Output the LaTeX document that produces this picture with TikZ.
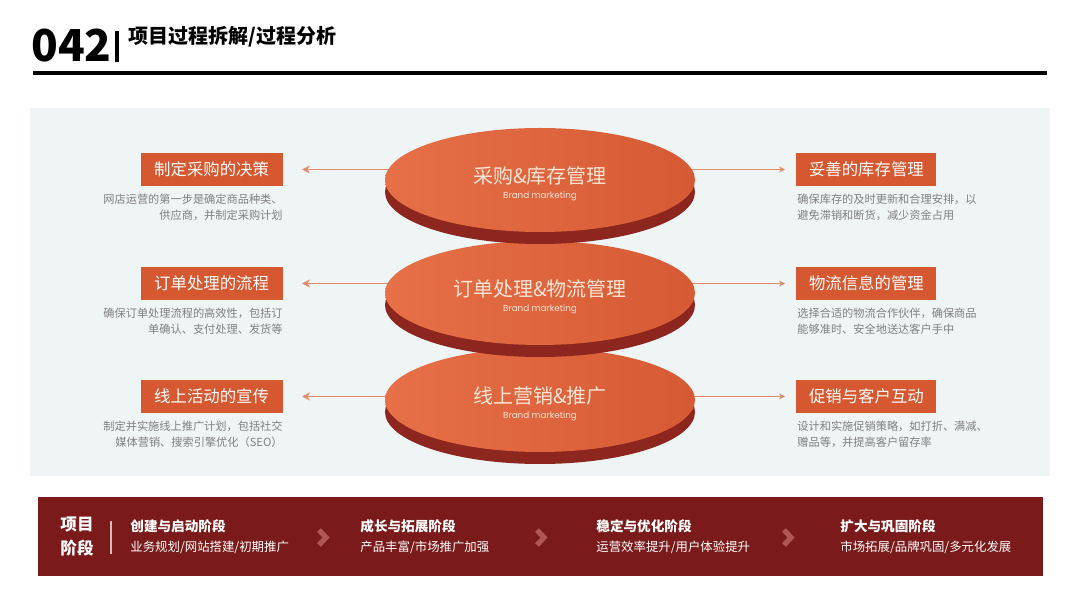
\documentclass[tikz,border=0pt]{standalone}
\usepackage{fontspec}
\setmainfont{Noto Sans CJK SC}
\newfontfamily\brandfont{Poppins}
\usepackage{xcolor}
\definecolor{pgPanel}{RGB}{239, 244, 244}
\definecolor{pgBox}  {RGB}{213,  88,  48}
\definecolor{pgFaceL}{RGB}{230, 112,  72}
\definecolor{pgFaceR}{RGB}{214,  90,  52}
\definecolor{pgRim}  {RGB}{140,  38,  30}
\definecolor{pgCream}{RGB}{250, 230, 214}
\definecolor{pgLink} {RGB}{226, 140, 110}
\definecolor{pgGrey} {RGB}{128, 128, 128}
\definecolor{pgBand} {RGB}{122,  26,  26}
\definecolor{pgChev} {RGB}{176,  86,  86}
\usepackage{tikz}
\usetikzlibrary{
  arrows.meta,
  positioning,
  shapes.geometric,
}

\begin{document}
\begin{tikzpicture}[
  x=0.5pt, y=-0.5pt,
  labelbox/.style={fill=pgBox, text=white, font=\fontsize{8.2}{9}\selectfont,
    minimum width=71pt, minimum height=16.5pt, inner sep=0pt},
  desc/.style={text=pgGrey, font=\fontsize{5.6}{7.6}\selectfont, inner sep=0pt},
  link/.style={pgLink, line width=0.5pt, {Stealth[length=4pt,width=4pt]}-{Stealth[length=3pt,width=3pt]},
    shorten <=9.5pt, shorten >=5.5pt},
  disc/.style={ellipse, minimum width=155pt, minimum height=52pt, inner sep=0pt},
  stagehead/.style={anchor=west, text=white, font=\bfseries\fontsize{6.8}{8}\selectfont, inner sep=0pt},
  stagesub/.style={anchor=west, text=white, font=\fontsize{6.2}{8}\selectfont, inner sep=0pt},
  chevron/.style={pgChev, line width=2.6pt, line cap=butt, line join=miter},
]
  % page size: 1080 x 608 px (1px = 0.5pt)
  \useasboundingbox (0,0) rectangle (1080,608);
  \fill[white] (0,0) rectangle (1080,608);

  % Header
  \node[anchor=base west, inner sep=0pt, font=\bfseries\fontsize{22}{24}\selectfont] (num) at (31,62) {042};
  \fill[black] (115,31) rectangle (119,62);
  \node[anchor=base west, inner sep=0pt, font=\bfseries\fontsize{10}{12}\selectfont] (title) at (128,44) {项目过程拆解/过程分析};
  \draw[line width=1.6pt] (33,73) -- (1047,73);

  % Panel
  \fill[pgPanel] (30,108) rectangle (1050,476);

  % Left labels
  \node[labelbox, anchor=east] (lb1) at (283,169.5) {制定采购的决策};
  \node[labelbox, anchor=east] (lb2) at (283,283.5) {订单处理的流程};
  \node[labelbox, anchor=east] (lb3) at (283,396.5) {线上活动的宣传};
  \node[desc, anchor=north east, align=right] (ld1) at (283,194) {网店运营的第一步是确定商品种类、\\供应商，并制定采购计划};
  \node[desc, anchor=north east, align=right] (ld2) at (283,308) {确保订单处理流程的高效性，包括订\\单确认、支付处理、发货等};
  \node[desc, anchor=north east, align=right] (ld3) at (283,421) {制定并实施线上推广计划，包括社交\\媒体营销、搜索引擎优化（SEO）};

  % Right labels
  \node[labelbox, anchor=west, minimum width=70pt] (rb1) at (796,169.5) {妥善的库存管理};
  \node[labelbox, anchor=west, minimum width=70pt] (rb2) at (796,283.5) {物流信息的管理};
  \node[labelbox, anchor=west, minimum width=70pt] (rb3) at (796,396.5) {促销与客户互动};
  \node[desc, anchor=north west, align=left] (rd1) at (797,194) {确保库存的及时更新和合理安排，以\\避免滞销和断货，减少资金占用};
  \node[desc, anchor=north west, align=left] (rd2) at (797,308) {选择合适的物流合作伙伴，确保商品\\能够准时、安全地送达客户手中};
  \node[desc, anchor=north west, align=left] (rd3) at (797,421) {设计和实施促销策略，如打折、满减、\\赠品等，并提高客户留存率};

  % Connectors (the discs cover their middle part)
  \foreach \i in {1,2,3}
    \draw[link] (lb\i.east) -- (rb\i.west);

  % Stacked discs, bottom one first
  \foreach \i/\y/\txt in {3/400/线上营销\&推广, 2/293/订单处理\&物流管理, 1/180/采购\&库存管理} {
    \node[disc, fill=pgRim] (r\i) at (540,\y+12) {};
    \node[disc, left color=pgFaceL, right color=pgFaceR] (e\i) at (540,\y) {};
    \node[text=pgCream, inner sep=0pt, font=\fontsize{10}{12}\selectfont] (t\i) at (540,\y-4) {\txt};
    \node[text=pgCream, inner sep=0pt, font=\brandfont\fontsize{4.4}{5}\selectfont] (b\i) at (540,\y+16) {Brand marketing};
  }

  % Bottom band
  \fill[pgBand] (38,497) rectangle (1043,576);
  \node[text=white, align=left, inner sep=0pt, font=\bfseries\fontsize{8.3}{12}\selectfont] (stg) at (77,537) {项目\\阶段};
  \draw[white!70!pgBand, line width=0.6pt] (111,521) -- (111,554);

  \node[stagehead] (s1) at (130,526) {创建与启动阶段};
  \node[stagesub]  (u1) at (130,547) {业务规划/网站搭建/初期推广};
  \node[stagehead] (s2) at (360,526) {成长与拓展阶段};
  \node[stagesub]  (u2) at (360,547) {产品丰富/市场推广加强};
  \node[stagehead] (s3) at (596,526) {稳定与优化阶段};
  \node[stagesub]  (u3) at (596,547) {运营效率提升/用户体验提升};
  \node[stagehead] (s4) at (840,526) {扩大与巩固阶段};
  \node[stagesub]  (u4) at (840,547) {市场拓展/品牌巩固/多元化发展};

  % Chevrons between stages
  \foreach \cx in {319,537,784}
    \draw[chevron] (\cx,530) -- (\cx+7,537.5) -- (\cx,545);
\end{tikzpicture}
\end{document}
